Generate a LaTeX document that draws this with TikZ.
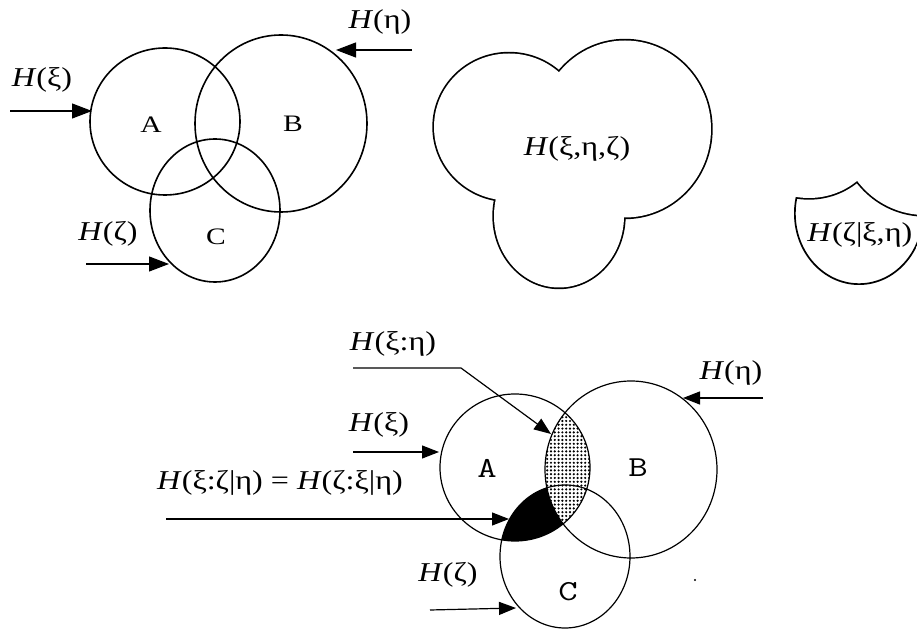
\documentclass[tikz,border=0pt]{standalone}
\usepackage{fontspec}
\setmainfont{Liberation Serif}
\usetikzlibrary{arrows.meta,patterns.meta}

% die drei Mengen (in Pixelkoordinaten)
\newcommand\kreisA{(165,121.5) ellipse [x radius=75, y radius=73.5]}
\newcommand\kreisB{(281,123.5) ellipse [x radius=86, y radius=88.5]}
\newcommand\kreisC{(215,210.5) ellipse [x radius=65, y radius=71.5]}
% Schrift ist im Original in die Breite gezogen
\newcommand\breit[2][1.18]{\scalebox{#1}[1]{#2}}

\begin{document}
\begin{tikzpicture}[
    x=0.5pt, y=-0.5pt,
    kreis/.style={draw, line width=0.8pt},
    kreisdünn/.style={draw, line width=0.6pt},
    umriss/.style={line width=1.7pt},
    pfeil/.style={-{Triangle[length=10pt, width=7.5pt]}, line width=0.55pt},
    pfeilklein/.style={-{Triangle[length=8.5pt, width=6.5pt]}, line width=0.6pt},
    lbl/.style={font=\fontsize{13.6}{15}\selectfont, inner sep=0pt},
    buchst/.style={font=\fontsize{11.8}{13}\selectfont, inner sep=0pt},
    buchsttt/.style={font=\ttfamily\fontsize{14.5}{16}\selectfont, inner sep=0pt}
]
\useasboundingbox (0,0) rectangle (917,630);
\clip (0,0) rectangle (917,630);

% Venn-Diagramm oben links
\draw[kreis] \kreisA \kreisB \kreisC;
\node[buchst] (a1) at (151,125) {\breit[1.25]{A}};
\node[buchst] (b1) at (293,124) {\breit[1.25]{B}};
\node[buchst] (c1) at (216,237) {\breit[1.25]{C}};

\node[lbl] (hxi1) at (42,80) {\breit{\textit{H}(ξ)}};
\node[lbl] (heta1) at (380,22) {\breit{\textit{H}(η)}};
\node[lbl] (hzeta1) at (108,234) {\breit{\textit{H}(ζ)}};
\coordinate (hxi1s) at (10,111);
\coordinate (hxi1e) at (92,111);
\coordinate (heta1s) at (412,50);
\coordinate (heta1e) at (336,50);
\coordinate (hzeta1s) at (86,264);
\coordinate (hzeta1e) at (169,264);
\draw[pfeil] (hxi1s) -- (hxi1e);
\draw[pfeil] (heta1s) -- (heta1e);
\draw[pfeil] (hzeta1s) -- (hzeta1e);

% Vereinigung H(xi,eta,zeta)
\begin{scope}[shift={(344,5.5)}]
  \draw[umriss] \kreisA \kreisB \kreisC;
  \fill[white] \kreisA \kreisB \kreisC;
\end{scope}
\node[lbl] (hall) at (577,149) {\breit{\textit{H}(ξ,η,ζ)}};

% Rest H(zeta|xi,eta)
\begin{scope}[shift={(644,3)}]
  \begin{scope}
    \clip \kreisC;
    \draw[umriss] \kreisC \kreisA \kreisB;
  \end{scope}
  \fill[white] \kreisA \kreisB;
\end{scope}
\node[lbl, anchor=west] (hcond) at (807,235) {\breit{\textit{H}(ζ|ξ,η)}};

% Venn-Diagramm unten mit Flaechen
\begin{scope}[shift={(350,346)}]
  \begin{scope}
    \clip \kreisA;
    \clip \kreisC;
    \fill[black] \kreisA;
  \end{scope}
  \begin{scope}
    \clip \kreisA;
    \fill[white] \kreisB;
    \fill[pattern={Dots[distance=1.9pt, radius=0.6pt]}] \kreisB;
  \end{scope}
  \draw[kreisdünn] \kreisA \kreisB \kreisC;
\end{scope}
\node[buchsttt] (a2) at (487,468) {\breit[1.3]{A}};
\node[buchsttt] (b2) at (638,468) {\breit[1.3]{B}};
\node[buchsttt] (c2) at (568,592) {\breit[1.3]{C}};

\node[lbl] (hxieta) at (393,344) {\breit{\textit{H}(ξ:η)}};
\node[lbl] (hxi2) at (379,425) {\breit{\textit{H}(ξ)}};
\node[lbl] (hcmi) at (280,483) {\breit{\textit{H}(ξ:ζ|η) = \textit{H}(ζ:ξ|η)}};
\node[lbl] (hzeta2) at (448,575) {\breit{\textit{H}(ζ)}};
\node[lbl] (heta2) at (731,373) {\breit{\textit{H}(η)}};

\coordinate (hxietas) at (353,368);
\coordinate (hxietak) at (461,368);
\coordinate (hxietae) at (551,434);
\coordinate (hxi2s) at (353,452);
\coordinate (hxi2e) at (439,452);
\coordinate (hcmis) at (166,519);
\coordinate (hcmie) at (509,519);
\coordinate (hzeta2s) at (430,610);
\coordinate (hzeta2e) at (516,608);
\coordinate (heta2s) at (763,398);
\coordinate (heta2e) at (683,398);
\draw[pfeilklein] (hxietas) -- (hxietak) -- (hxietae);
\draw[pfeilklein] (hxi2s) -- (hxi2e);
\draw[pfeilklein] (hcmis) -- (hcmie);
\draw[pfeilklein] (hzeta2s) -- (hzeta2e);
\draw[pfeilklein] (heta2s) -- (heta2e);

\fill (695,580) circle (1.2);
\end{tikzpicture}
\end{document}
